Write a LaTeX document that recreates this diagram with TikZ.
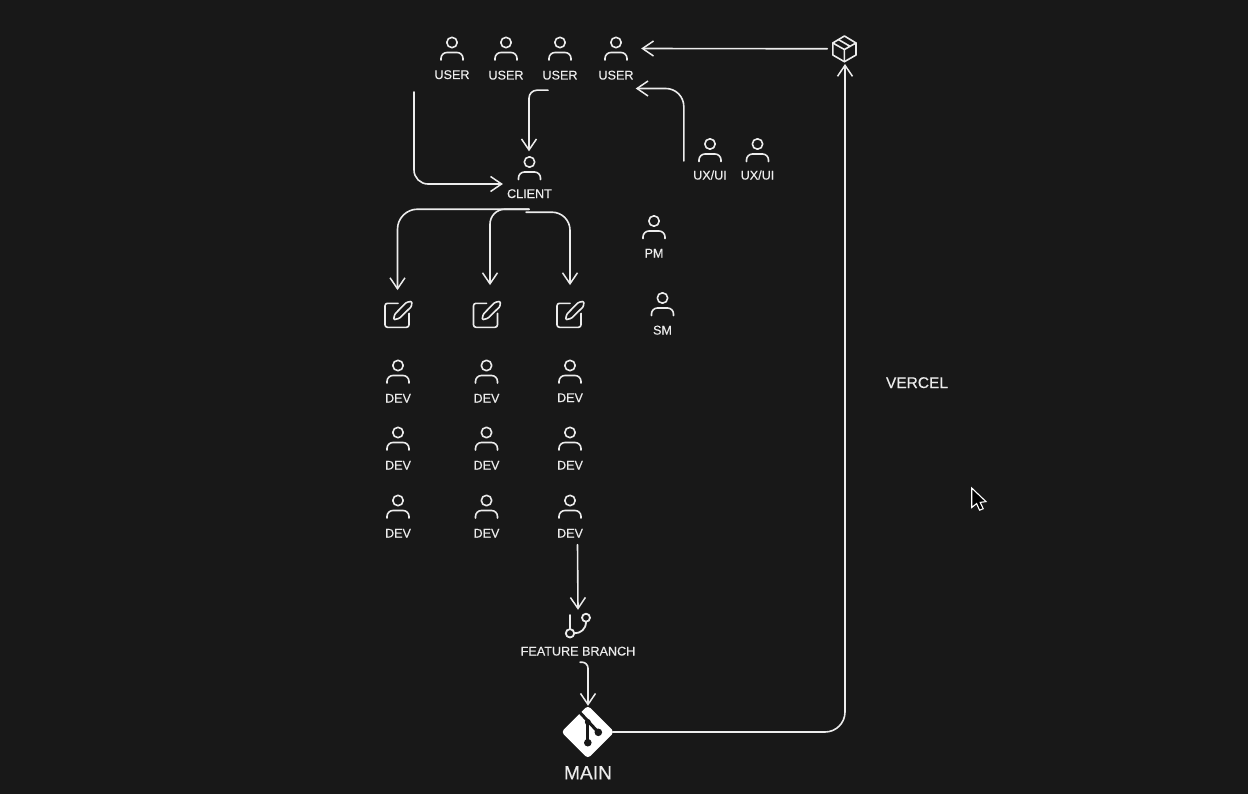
\documentclass[tikz,border=0pt]{standalone}
\usepackage{fontspec}
\setmainfont{Liberation Sans}
\newfontfamily\lblfont{Liberation Sans}[FakeBold=0.25]
\usetikzlibrary{arrows.meta}
\definecolor{bgc}{HTML}{181818}
\definecolor{inkc}{HTML}{ECECEC}
\tikzset{
  x=1bp,y=-1bp,
  ink/.style={draw=inkc,line width=1.6bp,line cap=round,line join=round},
  conn/.style={ink,line width=1.6bp,-{Straight Barb[length=11bp,width=15bp,line width=1.5bp]}},
  lbl/.style={inner sep=0pt,text=inkc,font=\lblfont\fontsize{12.6bp}{13bp}\selectfont,text height=9bp,text depth=0pt},
  body/.style={inner sep=0pt,minimum width=22bp,minimum height=24bp},
  iconbox/.style={inner sep=0pt,minimum width=24bp,minimum height=24bp}
}
\newcommand{\person}[5]{% id, x, y head, label offset, label
  \node[body] (#1) at (#2,#3+6.5) {};
  \node[lbl] (#1-l) at (#2,#3+#4) {#5};
  \begin{scope}[shift={(#2,#3)}]
    \draw[ink] (0,0) circle[radius=5.2bp];
    \draw[ink,rounded corners=6bp] (-11,17.5) -- (-11,10) -- (11,10) -- (11,17.5);
  \end{scope}
}
\newcommand{\editicon}[3]{% id, cx, cy
  \node[iconbox] (#1) at (#2,#3) {};
  \begin{scope}[shift={(#2-12,#3-12)}]
    \draw[ink,rounded corners=2.5bp] (13,0) -- (0,0) -- (0,24) -- (24,24) -- (24,10);
    \draw[ink,rounded corners=1.2bp] (8.5,16.5) -- (9.8,10.8) -- (21.5,-1) -- (26.8,-2) -- (26.6,3) -- (14.5,15) -- cycle;
  \end{scope}
}
\begin{document}
\begin{tikzpicture}
\path[use as bounding box,fill=bgc] (0,0) rectangle (1248,794);

% people
\person{u1}{452}{42.5}{32}{USER}
\person{u2}{506}{42.5}{32.5}{USER}
\person{u3}{560}{42.5}{32.5}{USER}
\person{u4}{616}{42.5}{32.5}{USER}
\person{client}{529.5}{162}{31.5}{CLIENT}
\person{ux1}{710}{144}{31}{UX/UI}
\person{ux2}{757.5}{144}{31}{UX/UI}
\person{pm}{654}{221}{32}{PM}
\person{sm}{662.5}{298}{32}{SM}
\person{d11}{398}{365.5}{32.5}{DEV}
\person{d12}{486.5}{365.5}{32.5}{DEV}
\person{d13}{570}{365.5}{32}{DEV}
\person{d21}{398}{432.5}{32.5}{DEV}
\person{d22}{486.5}{432.5}{32.5}{DEV}
\person{d23}{570}{432.5}{32.5}{DEV}
\person{d31}{398}{500.5}{32.5}{DEV}
\person{d32}{486.5}{500.5}{32.5}{DEV}
\person{d33}{570}{500.5}{32.5}{DEV}

% edit icons
\editicon{e1}{397}{315.3}
\editicon{e2}{485.5}{315.3}
\editicon{e3}{569}{315.3}

% package icon
\node[inner sep=0pt,minimum width=24bp,minimum height=26bp] (box) at (844.5,48.8) {};
\draw[ink] (844.4,36) -- (856,43) -- (856,55) -- (844.4,61.7) -- (832.8,55) -- (832.8,43) -- cycle;
\draw[ink] (832.8,43) -- (844.4,49.5) -- (856,43) (844.4,49.5) -- (844.4,61.7) (838.5,39.6) -- (850,46.3);

% branch icon
\node[inner sep=0pt,minimum width=24bp,minimum height=26bp] (branch) at (578,625) {};
\draw[ink,line width=1.8bp] (570,633.3) circle[radius=4.2bp] (586,617.7) circle[radius=4bp];
\draw[ink,line width=1.8bp] (570,629.1) -- (570,615);
\draw[ink,line width=1.8bp] (586,621.7) .. controls (586,629) and (581,633.3) .. (574.2,633.3);
\node[lbl] (fb) at (578,651) {FEATURE BRANCH};

% git logo
\node[inner sep=0pt,minimum width=50bp,minimum height=50bp] (git) at (587.8,732) {};
\fill[white,rounded corners=3.5bp] (587.8,705.5) -- (614.3,732) -- (587.8,758.5) -- (561.3,732) -- cycle;
\draw[bgc,line width=3bp] (579,711.5) -- (598.3,732.3);
\draw[bgc,line width=3bp] (587.8,721.5) -- (587.8,742.7);
\fill[bgc] (598.3,732.3) circle[radius=3.8bp] (587.8,742.7) circle[radius=3.8bp] (587.8,722) circle[radius=3bp];
\node[lbl,font=\lblfont\fontsize{19.2bp}{20bp}\selectfont,text height=14bp] (main) at (588,772.3) {MAIN};

\node[lbl,font=\lblfont\fontsize{15.5bp}{16bp}\selectfont,text height=11bp] (vercel) at (917,382.5) {VERCEL};

% free connector ends
\coordinate (userstart) at (414,92);

% connectors
\draw[conn] ([xshift=-5bp]box.west) -- ([xshift=14bp,yshift=0.5bp]u4.east);
\draw[conn,rounded corners=18bp] ([xshift=-15bp,yshift=-10.5bp]ux1.west) |- ([xshift=2bp,yshift=-13.5bp]u4-l.east);
\draw[conn,rounded corners=8bp] ([xshift=-12bp,yshift=-10.5bp]u3-l.south) -| ([xshift=-.5bp,yshift=5bp]client.north);
\draw[conn,rounded corners=14bp] (userstart) |- ([xshift=-4bp,yshift=9.5bp]client-l.west);
\draw[conn,rounded corners=20bp] ([xshift=-.5bp,yshift=-11bp]client-l.south) -| ([xshift=.5bp,yshift=13bp]e1.north);
\draw[conn,rounded corners=15bp] ([xshift=-.5bp,yshift=-11bp]client-l.south) -| ([xshift=4.5bp,yshift=18bp]e2.north);
\draw[conn,rounded corners=18bp] ([xshift=-3.5bp,yshift=-14bp]client-l.south) -| ([xshift=1bp,yshift=18bp]e3.north);
\draw[conn] ([xshift=7.5bp,yshift=-7bp]d33-l.south) -- ([yshift=2bp]branch.north);
\draw[conn,rounded corners=6bp] ([xshift=2bp,yshift=-6.5bp]fb.south) -| ([xshift=.2bp,yshift=1bp]git.north);
\draw[conn,rounded corners=20bp] (git.east) -| ([xshift=.5bp,yshift=-2bp]box.south);

% pointer
\draw[draw=white,fill=black,line width=1.1bp,line join=miter] (971.7,488) -- (971.7,507.5) -- (976.6,503.6) -- (979.6,510.2) -- (983.2,508.7) -- (980.2,502.4) -- (986,501.6) -- cycle;
\end{tikzpicture}
\end{document}
